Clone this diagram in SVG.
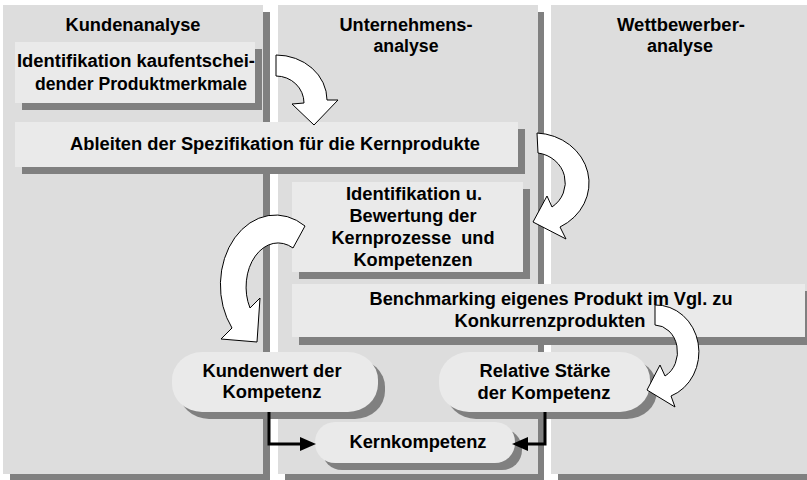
<svg xmlns="http://www.w3.org/2000/svg" width="807" height="480" viewBox="0 0 807 480">
<defs>
<style>
.col{fill:#dddddd}
.sh{fill:#808080}
.box{fill:#eaeaea}
.t{font-family:"Liberation Sans",Arial,Helvetica,sans-serif;font-weight:bold;font-size:18px;fill:#000;text-anchor:middle}
.arr{fill:#ffffff;stroke:#000000;stroke-width:1;stroke-linejoin:miter}
.conn{fill:none;stroke:#000000;stroke-width:3}
</style>
<marker id="ah" viewBox="0 0 16 14" refX="0" refY="7" markerWidth="16" markerHeight="14" markerUnits="userSpaceOnUse" orient="auto">
<path d="M0,0 L16,7 L0,14 Z" fill="#000"/>
</marker>
</defs>
<rect x="0" y="0" width="807" height="480" fill="#ffffff"/>

<g id="lane-kunden">
<rect class="sh" x="10" y="12" width="260" height="468"/>
<rect class="col" x="3" y="5" width="260" height="469"/>
<text class="t" x="133" y="31" textLength="135" lengthAdjust="spacingAndGlyphs">Kundenanalyse</text>
</g>
<g id="lane-unternehmen">
<rect class="sh" x="285" y="12" width="259" height="468"/>
<rect class="col" x="278" y="5" width="260" height="469"/>
<text class="t" x="406" y="31" textLength="133" lengthAdjust="spacingAndGlyphs">Unternehmens-</text>
<text class="t" x="406" y="52" textLength="65" lengthAdjust="spacingAndGlyphs">analyse</text>
</g>
<g id="lane-wettbewerber">
<rect class="sh" x="558" y="12" width="260" height="468"/>
<rect class="col" x="551" y="5" width="260" height="469"/>
<text class="t" x="681" y="31" textLength="128" lengthAdjust="spacingAndGlyphs">Wettbewerber-</text>
<text class="t" x="680" y="52" textLength="66" lengthAdjust="spacingAndGlyphs">analyse</text>
</g>

<g id="n-identifikation-merkmale">
<rect class="sh" x="22" y="49" width="240" height="61"/>
<rect class="box" x="15" y="42" width="240" height="61"/>
<text class="t" x="136" y="67" textLength="238" lengthAdjust="spacingAndGlyphs">Identifikation kaufentschei-</text>
<text class="t" x="141" y="90" textLength="212" lengthAdjust="spacingAndGlyphs">dender Produktmerkmale</text>
</g>

<g id="n-ableiten">
<rect class="sh" x="22" y="129" width="503" height="45"/>
<rect class="box" x="15" y="122" width="503" height="45"/>
<text class="t" x="275" y="150" textLength="410" lengthAdjust="spacingAndGlyphs">Ableiten der Spezifikation für die Kernprodukte</text>
</g>

<g id="n-kernprozesse">
<rect class="sh" x="299" y="189" width="231" height="90"/>
<rect class="box" x="292" y="182" width="231" height="90"/>
<text class="t" x="414" y="200" textLength="136" lengthAdjust="spacingAndGlyphs">Identifikation u.</text>
<text class="t" x="413" y="222" textLength="127" lengthAdjust="spacingAndGlyphs">Bewertung der</text>
<text class="t" x="413" y="244" textLength="163" lengthAdjust="spacingAndGlyphs" xml:space="preserve">Kernprozesse  und</text>
<text class="t" x="413" y="266" textLength="119" lengthAdjust="spacingAndGlyphs">Kompetenzen</text>
</g>

<g id="n-benchmarking">
<rect class="sh" x="299" y="291" width="520" height="54"/>
<rect class="box" x="292" y="284" width="513" height="53"/>
<text class="t" x="551" y="305" textLength="363" lengthAdjust="spacingAndGlyphs">Benchmarking eigenes Produkt im Vgl. zu</text>
<text class="t" x="550" y="327" textLength="191" lengthAdjust="spacingAndGlyphs">Konkurrenzprodukten</text>
</g>

<g id="n-kundenwert">
<rect class="sh" x="179" y="359" width="206" height="60" rx="30" ry="28"/>
<rect class="box" x="172" y="352" width="206" height="60" rx="30" ry="28"/>
<text class="t" x="272" y="377" textLength="139" lengthAdjust="spacingAndGlyphs">Kundenwert der</text>
<text class="t" x="272" y="398" textLength="99" lengthAdjust="spacingAndGlyphs">Kompetenz</text>
</g>

<g id="n-relative-staerke">
<rect class="sh" x="446" y="359" width="211" height="60" rx="30" ry="28"/>
<rect class="box" x="439" y="352" width="211" height="60" rx="30" ry="28"/>
<text class="t" x="545" y="377" textLength="131" lengthAdjust="spacingAndGlyphs">Relative Stärke</text>
<text class="t" x="544" y="399" textLength="133" lengthAdjust="spacingAndGlyphs">der Kompetenz</text>
</g>

<g id="n-kernkompetenz">
<rect class="sh" x="322" y="429" width="200" height="41" rx="20" ry="20"/>
<rect class="box" x="315" y="422" width="200" height="41" rx="20" ry="20"/>
<text class="t" x="418" y="448" textLength="137" lengthAdjust="spacingAndGlyphs">Kernkompetenz</text>
</g>

<g id="connectors">
<path class="conn" d="M269,412 V444 H300" marker-end="url(#ah)"/>
<path class="conn" d="M545,412 V444 H528" marker-end="url(#ah)"/>
<path class="arr" d="M276,55 A51,45 0 0 1 327,100 L338,100 L314,125 L292,104 L304,103 A28,27 0 0 0 276,76 Z"/>
<path class="arr" d="M537,133 A55,50 0 0 1 560,227 L566,239 L533,222 L547,196 L552,207 A32,30 0 0 0 538,153 Z"/>
<path class="arr" d="M305,226 A55,70 0 0 0 232,328 L221,339 L257,342 L260,298 L250,308 A32,44 0 0 1 293,248 Z"/>
<path class="arr" d="M655,305 A43,47 0 0 1 671,396 L675,407 L647,390 L660,365 L665,376 A23,27 0 0 0 655,325 Z"/>
</g>
</svg>
